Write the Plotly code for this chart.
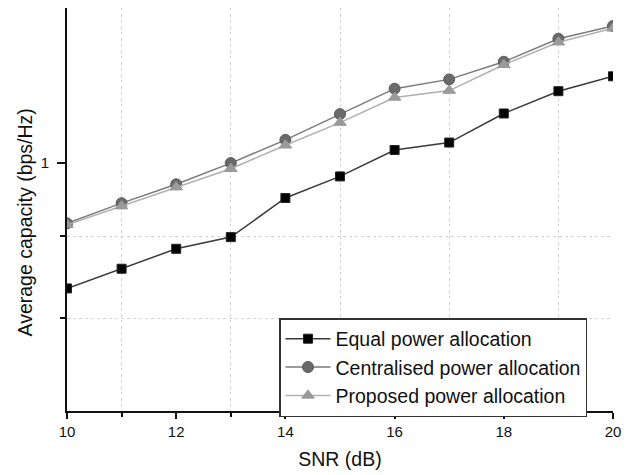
import plotly.graph_objects as go
import math

snr = [10, 11, 12, 13, 14, 15, 16, 17, 18, 19, 20]
equal_power = [0.835, 0.859, 0.884, 0.899, 0.951, 0.981, 1.019, 1.030, 1.074, 1.109, 1.133]
centralised_power = [0.917, 0.944, 0.970, 1.000, 1.034, 1.073, 1.113, 1.128, 1.157, 1.196, 1.218]
proposed_power = [0.915, 0.940, 0.966, 0.992, 1.026, 1.060, 1.099, 1.110, 1.152, 1.190, 1.214]

x_major = [10, 12, 14, 16, 18, 20]
x_minor = [11, 13, 15, 17, 19]
y_major = [1]
y_minor = [0.8, 0.9]

FONT = "Arial, Liberation Sans, sans-serif"

fig = go.Figure()
fig.add_trace(go.Scatter(
    x=snr, y=equal_power, mode="lines+markers", name="Equal power allocation",
    line=dict(color="#3a3a3a", width=1.5),
    marker=dict(symbol="square", size=9, color="#000000", line=dict(color="#222", width=1)),
))
fig.add_trace(go.Scatter(
    x=snr, y=centralised_power, mode="lines+markers", name="Centralised power allocation",
    line=dict(color="#7a7a7a", width=1.5),
    marker=dict(symbol="circle", size=11, color="#6a6a6a", line=dict(color="#5a5a5a", width=1)),
))
fig.add_trace(go.Scatter(
    x=snr, y=proposed_power, mode="lines+markers", name="Proposed power allocation",
    line=dict(color="#b0b0b0", width=1.5),
    marker=dict(symbol="triangle-up", size=11, color="#9a9a9a", line=dict(color="#999", width=1)),
))

# page has an 8px body margin: plot area wanted at page x 67..613, y 8..411
fig.update_layout(
    width=635, height=475,
    margin=dict(l=59, r=30, t=0, b=72, autoexpand=False),
    paper_bgcolor="white", plot_bgcolor="white",
    font=dict(family=FONT, color="#111"),
    showlegend=True,
    legend=dict(
        x=(279 - 67) / 546, y=(411 - 318) / 403, xanchor="left", yanchor="top",
        bordercolor="#333", borderwidth=1.5, bgcolor="white",
        font=dict(size=19.5, family=FONT, color="#111"),
        itemwidth=45, tracegroupgap=0,
    ),
    annotations=[dict(
        text="Average capacity (bps/Hz)", textangle=-90,
        xref="paper", yref="paper", x=0, xshift=-43, y=(411 - 222.5) / 403,
        xanchor="center", yanchor="middle", showarrow=False,
        font=dict(size=19.5, family=FONT, color="#111"),
    )],
)

fig.update_xaxes(
    range=[10, 20], tickmode="array", tickvals=x_major,
    ticks="outside", ticklen=6, tickwidth=1.5, tickcolor="#111",
    showline=True, linecolor="#111", linewidth=2, mirror=False,
    showgrid=False, zeroline=False, automargin=False,
    tickfont=dict(size=15, family=FONT, color="#111"),
    title=dict(text="SNR (dB)", font=dict(size=19.5, family=FONT, color="#111"), standoff=13),
    minor=dict(tickvals=x_minor, ticks="outside", ticklen=4, tickwidth=1.5, tickcolor="#111",
               showgrid=True, gridcolor="#d2d2d2", griddash="dot", gridwidth=1),
)
fig.update_yaxes(
    type="log", range=[math.log10(0.7), math.log10(1.25)],
    tickmode="array", tickvals=y_major, ticktext=["1"],
    ticks="outside", ticklen=8, tickwidth=1.5, tickcolor="#111",
    showline=True, linecolor="#111", linewidth=2, mirror=False,
    showgrid=False, zeroline=False, automargin=False, ticklabelstandoff=5,
    tickfont=dict(size=15, family=FONT, color="#111"),
    minor=dict(tickvals=y_minor, ticks="outside", ticklen=5, tickwidth=1.5, tickcolor="#111",
               showgrid=True, gridcolor="#d2d2d2", griddash="dot", gridwidth=1),
)

fig.write_html("out.html")
